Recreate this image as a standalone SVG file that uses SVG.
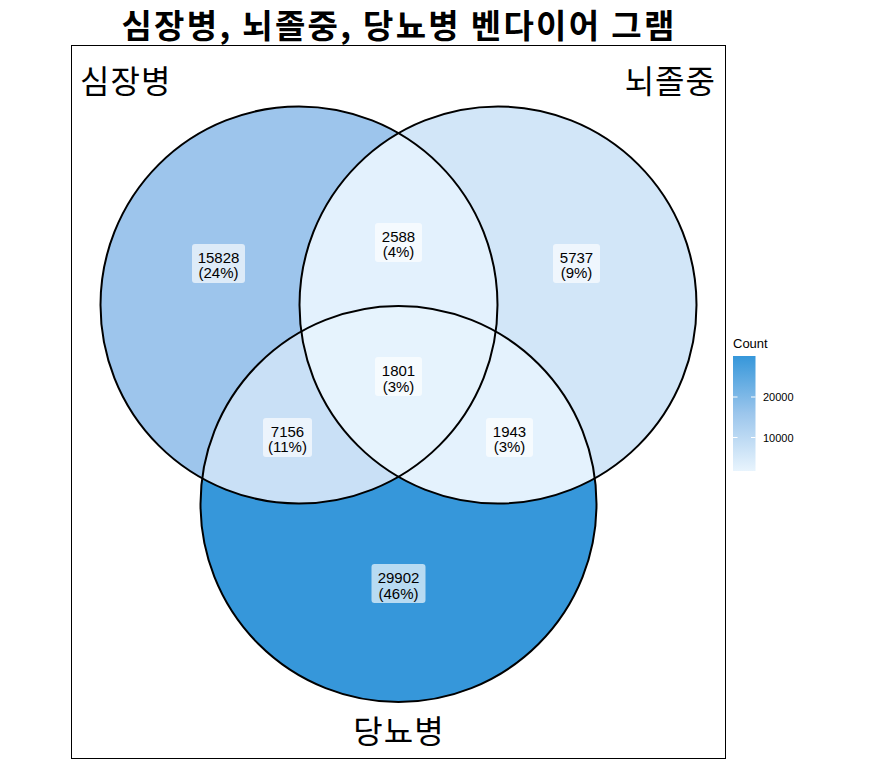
<svg xmlns="http://www.w3.org/2000/svg" width="870" height="760" viewBox="0 0 870 760">
<style>
.lbl{font-family:"Liberation Sans",Arial,sans-serif;font-size:15px;fill:#000;text-anchor:middle}
.box{fill:#fff;fill-opacity:0.65}
.set{font-family:"Noto Sans CJK KR",sans-serif;font-size:32px;letter-spacing:1px;fill:#000}
.outline{fill:none;stroke:#000;stroke-width:2}
.leg{font-family:"Liberation Sans",Arial,sans-serif;fill:#000}
</style>
<defs>
<clipPath id="clipA"><circle cx="299" cy="305" r="198.5"/></clipPath>
<clipPath id="clipB"><circle cx="498" cy="305" r="198.5"/></clipPath>
<linearGradient id="grad" x1="0" y1="0" x2="0" y2="1">
<stop offset="0" stop-color="#3697DA"/>
<stop offset="0.5" stop-color="#9CC6EC"/>
<stop offset="1" stop-color="#E8F4FD"/>
</linearGradient>
</defs>
<rect width="870" height="760" fill="#fff"/>
<text x="399" y="38" text-anchor="middle" font-family="'Noto Sans CJK KR',sans-serif" font-weight="700" font-size="33" letter-spacing="2.3">심장병, 뇌졸중, 당뇨병 벤다이어 그램</text>
<rect x="71.5" y="45.5" width="654" height="713" fill="none" stroke="#000" stroke-width="1"/>
<g id="regions">
<circle id="fill-heart" cx="299" cy="305" r="198.5" fill="#9DC5EC"/>
<circle id="fill-stroke" cx="498" cy="305" r="198.5" fill="#D2E6F8"/>
<circle id="fill-diabetes" cx="398.5" cy="504" r="198" fill="#3697DA"/>
<circle cx="498" cy="305" r="198.5" fill="#E3F1FD" clip-path="url(#clipA)"/>
<circle cx="398.5" cy="504" r="198" fill="#C9E0F6" clip-path="url(#clipA)"/>
<circle cx="398.5" cy="504" r="198" fill="#E4F2FD" clip-path="url(#clipB)"/>
<g clip-path="url(#clipA)"><circle cx="398.5" cy="504" r="198" fill="#E6F3FD" clip-path="url(#clipB)"/></g>
</g>
<g id="set-heart"><circle class="outline" cx="299" cy="305" r="198.5"/><text class="set" x="80" y="93">심장병</text></g>
<g id="set-stroke"><circle class="outline" cx="498" cy="305" r="198.5"/><text class="set" x="716" y="93" text-anchor="end">뇌졸중</text></g>
<g id="set-diabetes"><circle class="outline" cx="398.5" cy="504" r="198"/><text class="set" x="399" y="743" text-anchor="middle">당뇨병</text></g>
<g id="connectors"/>
<g id="label-15828"><rect class="box" x="192" y="244" width="53" height="39" rx="3"/><text class="lbl" x="218.5" y="262.5">15828</text><text class="lbl" x="218.5" y="278">(24%)</text></g>
<g id="label-2588"><rect class="box" x="375" y="223" width="47" height="39" rx="3"/><text class="lbl" x="398.5" y="241.5">2588</text><text class="lbl" x="398.5" y="257">(4%)</text></g>
<g id="label-5737"><rect class="box" x="553" y="244" width="47" height="39" rx="3"/><text class="lbl" x="576.5" y="262.5">5737</text><text class="lbl" x="576.5" y="278">(9%)</text></g>
<g id="label-1801"><rect class="box" x="375" y="357" width="47" height="39" rx="3"/><text class="lbl" x="398.5" y="376">1801</text><text class="lbl" x="398.5" y="391.5">(3%)</text></g>
<g id="label-7156"><rect class="box" x="263" y="418" width="49" height="39" rx="3"/><text class="lbl" x="287.5" y="436.5">7156</text><text class="lbl" x="287.5" y="452">(11%)</text></g>
<g id="label-1943"><rect class="box" x="486" y="418" width="47" height="39" rx="3"/><text class="lbl" x="509.5" y="436.5">1943</text><text class="lbl" x="509.5" y="452">(3%)</text></g>
<g id="label-29902"><rect class="box" x="371.5" y="564" width="54" height="39" rx="3"/><text class="lbl" x="398.5" y="583">29902</text><text class="lbl" x="398.5" y="598.5">(46%)</text></g>
<g id="legend">
<text class="leg" x="733" y="348" font-size="13">Count</text>
<rect x="733" y="356" width="22.5" height="115" fill="url(#grad)"/>
<g stroke="#fff" stroke-width="1">
<line x1="733" y1="397" x2="737.5" y2="397"/><line x1="751" y1="397" x2="755.5" y2="397"/>
<line x1="733" y1="437.5" x2="737.5" y2="437.5"/><line x1="751" y1="437.5" x2="755.5" y2="437.5"/>
</g>
<text class="leg" x="763" y="401" font-size="11">20000</text>
<text class="leg" x="763" y="441.5" font-size="11">10000</text>
</g>
</svg>
